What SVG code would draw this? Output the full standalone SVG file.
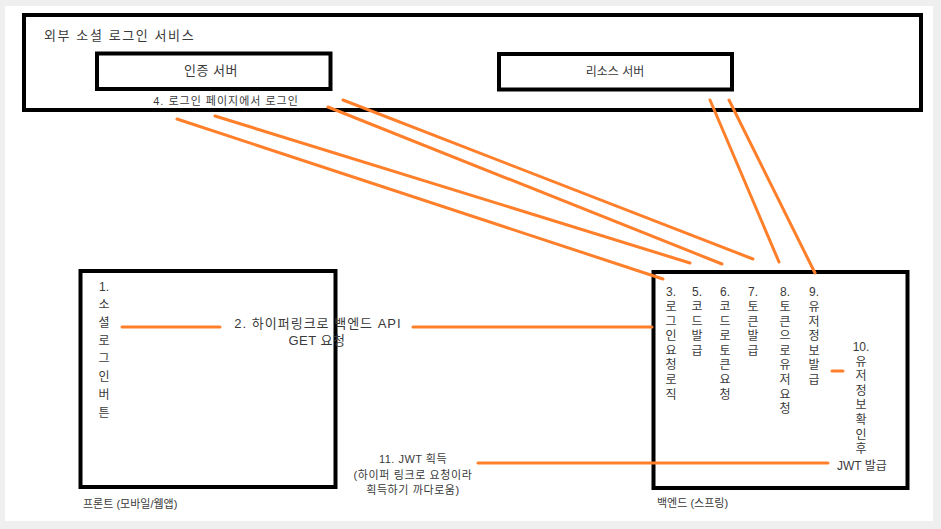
<svg xmlns="http://www.w3.org/2000/svg" width="941" height="529" viewBox="0 0 941 529">
<style>
text{font-family:"Liberation Sans","Noto Sans CJK KR",sans-serif;fill:#3a3a3a;}
.box{fill:#fff;stroke:#000;stroke-width:4;}
.c{stroke:#ff7f2a;stroke-width:3;fill:none;stroke-linecap:round;}
.v{font-size:12px;text-anchor:middle;}
.m{text-anchor:middle;}
</style>
<rect x="0" y="0" width="941" height="529" fill="#efefef"/>
<rect x="5" y="6" width="928" height="515" fill="#fff"/>
<g id="external">
<rect class="box" x="24" y="15" width="897" height="95"/>
<text x="44" y="40" font-size="13" letter-spacing="1.6">외부 소셜 로그인 서비스</text>
</g>
<g id="auth-server">
<rect class="box" x="97" y="53.5" width="233.5" height="35.5" stroke-width="3.5"/>
<text class="m" x="211" y="75" font-size="13" letter-spacing="0.5">인증 서버</text>
</g>
<g id="resource-server">
<rect class="box" x="499" y="54" width="233" height="35.5" stroke-width="3.5"/>
<text class="m" x="615" y="76" font-size="12">리소스 서버</text>
</g>
<g id="front">
<rect class="box" x="80.5" y="271" width="255" height="216"/>
<text class="v" x="104" y="291"><tspan x="104">1.</tspan><tspan x="104" dy="18">소</tspan><tspan x="104" dy="18">셜</tspan><tspan x="104" dy="18">로</tspan><tspan x="104" dy="18">그</tspan><tspan x="104" dy="18">인</tspan><tspan x="104" dy="18">버</tspan><tspan x="104" dy="18">튼</tspan></text>
<text x="83" y="508" font-size="11">프론트 (모바일/웹앱)</text>
</g>
<g id="backend">
<rect class="box" x="653.5" y="272" width="254" height="216"/>
<text class="v" x="671" y="296"><tspan x="671">3.</tspan><tspan x="671" dy="15">로</tspan><tspan x="671" dy="14.6">그</tspan><tspan x="671" dy="14.6">인</tspan><tspan x="671" dy="14.6">요</tspan><tspan x="671" dy="14.6">청</tspan><tspan x="671" dy="14.6">로</tspan><tspan x="671" dy="14.6">직</tspan></text>
<text class="v" x="697" y="296"><tspan x="697">5.</tspan><tspan x="697" dy="15">코</tspan><tspan x="697" dy="14.6">드</tspan><tspan x="697" dy="14.6">발</tspan><tspan x="697" dy="14.6">급</tspan></text>
<text class="v" x="725" y="296"><tspan x="725">6.</tspan><tspan x="725" dy="15">코</tspan><tspan x="725" dy="14.6">드</tspan><tspan x="725" dy="14.6">로</tspan><tspan x="725" dy="14.6">토</tspan><tspan x="725" dy="14.6">큰</tspan><tspan x="725" dy="14.6">요</tspan><tspan x="725" dy="14.6">청</tspan></text>
<text class="v" x="753" y="296"><tspan x="753">7.</tspan><tspan x="753" dy="15">토</tspan><tspan x="753" dy="14.6">큰</tspan><tspan x="753" dy="14.6">발</tspan><tspan x="753" dy="14.6">급</tspan></text>
<text class="v" x="785" y="296"><tspan x="785">8.</tspan><tspan x="785" dy="15">토</tspan><tspan x="785" dy="14.6">큰</tspan><tspan x="785" dy="14.6">으</tspan><tspan x="785" dy="14.6">로</tspan><tspan x="785" dy="14.6">유</tspan><tspan x="785" dy="14.6">저</tspan><tspan x="785" dy="14.6">요</tspan><tspan x="785" dy="14.6">청</tspan></text>
<text class="v" x="814" y="296"><tspan x="814">9.</tspan><tspan x="814" dy="15">유</tspan><tspan x="814" dy="14.6">저</tspan><tspan x="814" dy="14.6">정</tspan><tspan x="814" dy="14.6">보</tspan><tspan x="814" dy="14.6">발</tspan><tspan x="814" dy="14.6">급</tspan></text>
<text class="v" x="861" y="351"><tspan x="861">10.</tspan><tspan x="861" dy="14.6">유</tspan><tspan x="861" dy="14.6">저</tspan><tspan x="861" dy="14.6">정</tspan><tspan x="861" dy="14.6">보</tspan><tspan x="861" dy="14.6">확</tspan><tspan x="861" dy="14.6">인</tspan><tspan x="861" dy="14.6">후</tspan></text>
<text x="837" y="470" font-size="12">JWT 발급</text>
<text x="657" y="507" font-size="11">백엔드 (스프링)</text>
</g>
<g id="connectors">
<line class="c" x1="177" y1="119" x2="663" y2="279"/>
<line class="c" x1="215" y1="116" x2="690" y2="263"/>
<line class="c" x1="328" y1="107" x2="722" y2="264"/>
<line class="c" x1="343" y1="100" x2="753" y2="259"/>
<line class="c" x1="710" y1="100" x2="779" y2="262"/>
<line class="c" x1="729" y1="100" x2="815" y2="273"/>
<line class="c" x1="122" y1="327" x2="220" y2="327"/>
<line class="c" x1="413" y1="327" x2="652" y2="327"/>
<line class="c" x1="832" y1="371" x2="843" y2="371"/>
<line class="c" x1="478" y1="463" x2="828" y2="463"/>
</g>
<g id="labels">
<text class="m" x="226" y="105" font-size="11" letter-spacing="1">4. 로그인 페이지에서 로그인</text>
<text class="m" x="318" y="328" font-size="13" letter-spacing="1">2. 하이퍼링크로 백엔드 API</text>
<text class="m" x="317" y="345" font-size="13" letter-spacing="0.5">GET 요청</text>
<text class="m" x="413" y="463" font-size="11" letter-spacing="0.5">11. JWT 획득</text>
<text class="m" x="413" y="479" font-size="11" letter-spacing="0.6">(하이퍼 링크로 요청이라</text>
<text class="m" x="413" y="494" font-size="11" letter-spacing="0.6">획득하기 까다로움)</text>
</g>
</svg>
